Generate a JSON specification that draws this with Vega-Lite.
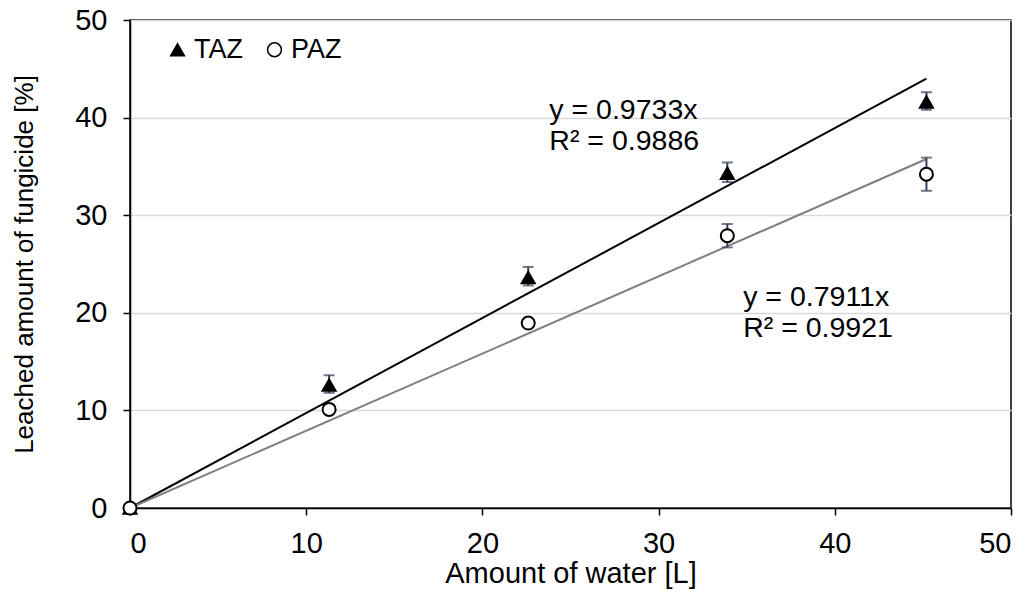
{
  "$schema": "https://vega.github.io/schema/vega-lite/v6.json",
  "width": 881,
  "height": 488,
  "autosize": {"type": "none"},
  "padding": {"left": 130, "top": 20, "right": 21, "bottom": 96},
  "background": "white",
  "config": {
    "font": "Liberation Sans",
    "view": {"stroke": "#000000", "strokeWidth": 1.5},
    "axis": {
      "labelFont": "Liberation Sans",
      "titleFont": "Liberation Sans",
      "labelFontSize": 29,
      "titleFontSize": 26,
      "titleFontWeight": "normal",
      "labelColor": "#000000",
      "titleColor": "#000000",
      "domainColor": "#000000",
      "domainWidth": 1.5,
      "tickColor": "#000000",
      "tickWidth": 1.5,
      "tickSize": 7,
      "gridColor": "#d9d9d9",
      "gridWidth": 1.5
    },
    "legend": {
      "labelFont": "Liberation Sans",
      "labelFontSize": 27,
      "labelColor": "#000000"
    }
  },
  "datasets": {
    "points": [
      {"series": "TAZ", "water": 0, "leached": 0, "lo": 0, "hi": 0},
      {"series": "TAZ", "water": 11.3, "leached": 12.6, "lo": 11.8, "hi": 13.6},
      {"series": "TAZ", "water": 22.6, "leached": 23.6, "lo": 22.8, "hi": 24.7},
      {"series": "TAZ", "water": 33.9, "leached": 34.3, "lo": 33.4, "hi": 35.4},
      {"series": "TAZ", "water": 45.2, "leached": 41.6, "lo": 40.8, "hi": 42.6},
      {"series": "PAZ", "water": 0, "leached": 0, "lo": 0, "hi": 0},
      {"series": "PAZ", "water": 11.3, "leached": 10.1, "lo": 10.0, "hi": 10.2},
      {"series": "PAZ", "water": 22.6, "leached": 18.95, "lo": 18.8, "hi": 19.1},
      {"series": "PAZ", "water": 33.9, "leached": 27.9, "lo": 26.7, "hi": 29.1},
      {"series": "PAZ", "water": 45.2, "leached": 34.2, "lo": 32.5, "hi": 35.9}
    ],
    "trend": [
      {"series": "TAZ", "water": 0, "fit": 0},
      {"series": "TAZ", "water": 45.2, "fit": 43.99},
      {"series": "PAZ", "water": 0, "fit": 0},
      {"series": "PAZ", "water": 45.2, "fit": 35.76}
    ],
    "labels": [
      {"water": 23.8, "y": 40.8, "text": "y = 0.9733x"},
      {"water": 23.8, "y": 37.6, "text": "R² = 0.9886"},
      {"water": 34.8, "y": 21.6, "text": "y = 0.7911x"},
      {"water": 34.8, "y": 18.4, "text": "R² = 0.9921"}
    ]
  },
  "layer": [
    {
      "data": {"name": "trend"},
      "transform": [{"filter": "datum.series === 'TAZ'"}],
      "mark": {"type": "line", "strokeWidth": 2, "color": "#000000"},
      "encoding": {
        "x": {
          "field": "water", "type": "quantitative",
          "scale": {"domain": [0, 50], "nice": false},
          "axis": {"title": "Amount of water [L]", "titleFontSize": 29, "values": [0, 10, 20, 30, 40, 50], "grid": false, "labelPadding": 14, "titlePadding": 1}
        },
        "y": {
          "field": "fit", "type": "quantitative",
          "scale": {"domain": [0, 50], "nice": false},
          "axis": {"title": "Leached amount of fungicide [%]", "values": [0, 10, 20, 30, 40, 50], "grid": true, "labelPadding": 16, "titlePadding": 37}
        }
      }
    },
    {
      "data": {"name": "trend"},
      "transform": [{"filter": "datum.series === 'PAZ'"}],
      "mark": {"type": "line", "strokeWidth": 2, "color": "#7f7f7f"},
      "encoding": {
        "x": {"field": "water", "type": "quantitative"},
        "y": {"field": "fit", "type": "quantitative"}
      }
    },
    {
      "data": {"name": "points"},
      "mark": {"type": "rule", "color": "#34405a", "strokeWidth": 2},
      "encoding": {
        "x": {"field": "water", "type": "quantitative"},
        "y": {"field": "lo", "type": "quantitative"},
        "y2": {"field": "hi"}
      }
    },
    {
      "data": {"name": "points"},
      "mark": {"type": "tick", "orient": "horizontal", "color": "#34405a", "size": 11, "thickness": 2},
      "encoding": {
        "x": {"field": "water", "type": "quantitative"},
        "y": {"field": "lo", "type": "quantitative"}
      }
    },
    {
      "data": {"name": "points"},
      "mark": {"type": "tick", "orient": "horizontal", "color": "#34405a", "size": 11, "thickness": 2},
      "encoding": {
        "x": {"field": "water", "type": "quantitative"},
        "y": {"field": "hi", "type": "quantitative"}
      }
    },
    {
      "data": {"name": "points"},
      "mark": {"type": "point", "opacity": 1, "strokeWidth": 2, "stroke": "#000000", "filled": false},
      "encoding": {
        "x": {"field": "water", "type": "quantitative"},
        "y": {"field": "leached", "type": "quantitative"},
        "shape": {
          "field": "series", "type": "nominal",
          "scale": {"domain": ["TAZ", "PAZ"], "range": ["triangle-up", "circle"]},
          "legend": {
            "title": null,
            "orient": "none",
            "legendX": 34,
            "legendY": 16,
            "direction": "horizontal",
            "symbolSize": 190,
            "symbolStrokeWidth": 1.5,
            "labelOffset": 3,
            "columnPadding": 18,
            "encode": {"symbols": {"update": {"stroke": {"value": "#000000"}, "strokeWidth": {"value": 1.5}}}}
          }
        },
        "fill": {
          "field": "series", "type": "nominal",
          "scale": {"domain": ["TAZ", "PAZ"], "range": ["#000000", "#ffffff"]},
          "legend": {
            "title": null,
            "orient": "none",
            "legendX": 34,
            "legendY": 16,
            "direction": "horizontal",
            "symbolSize": 190,
            "symbolStrokeWidth": 1.5,
            "labelOffset": 3,
            "columnPadding": 18,
            "encode": {"symbols": {"update": {"stroke": {"value": "#000000"}, "strokeWidth": {"value": 1.5}}}}
          }
        },
        "size": {"value": 170}
      }
    },
    {
      "data": {"name": "labels"},
      "mark": {"type": "text", "align": "left", "baseline": "middle", "fontSize": 28.5, "font": "Liberation Sans", "color": "#000000"},
      "encoding": {
        "x": {"field": "water", "type": "quantitative"},
        "y": {"field": "y", "type": "quantitative"},
        "text": {"field": "text"}
      }
    }
  ]
}
